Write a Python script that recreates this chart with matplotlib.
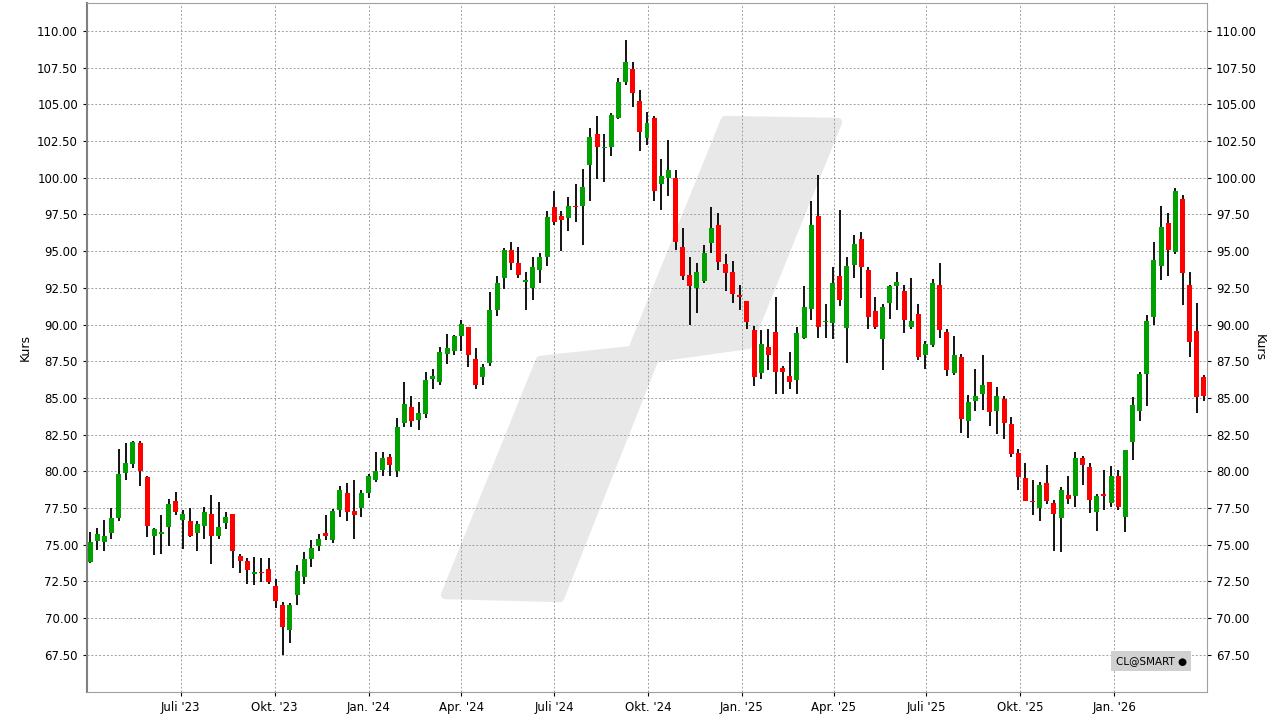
import matplotlib
matplotlib.use("Agg")
import matplotlib.pyplot as plt
import matplotlib.dates as mdates
from matplotlib.patches import Polygon
import numpy as np
import datetime as dt

start = dt.date(2023, 4, 3)
opens = [73.85,75.27,75.2,75.8,76.84,79.9,80.5,81.93,79.6,75.6,75.75,76.2,78.0,76.7,76.6,
 75.8,76.3,77.1,75.6,76.45,77.1,74.25,73.9,72.98,73.16,73.36,72.2,70.9,69.2,71.6,
 72.8,74.0,74.9,75.8,75.3,77.4,78.5,77.3,77.5,78.5,79.4,80.1,80.97,80.0,83.3,
 84.4,83.5,83.9,86.3,86.1,88.0,88.2,89.25,89.8,87.66,86.45,87.4,91.0,93.2,95.05,
 94.2,92.9,92.5,93.7,94.6,98.0,97.4,97.25,98.1,98.1,100.86,103.0,102.0,102.1,104.1,
 106.5,107.4,105.2,102.7,104.1,99.6,100.0,100.0,95.25,93.35,92.5,92.95,95.55,96.75,94.1,
 93.6,91.98,91.57,89.66,86.7,88.5,89.5,87.07,86.5,86.2,89.1,91.05,97.36,90.16,90.1,
 93.3,89.75,94.05,95.8,93.7,90.95,89.0,91.5,92.6,92.25,89.85,90.7,87.9,88.6,92.7,
 89.5,86.7,87.8,83.4,84.77,85.25,86.07,84.14,84.9,83.2,81.27,79.57,78.0,77.48,79.2,
 77.86,76.8,78.4,78.3,80.93,80.27,77.23,78.43,77.84,79.68,76.9,81.98,84.12,86.64,90.52,
 94.0,96.9,94.95,98.55,92.68,89.55,86.4]
closes = [75.16,75.73,75.6,76.8,79.8,80.6,82.0,80.0,76.3,76.1,75.85,77.8,77.2,77.1,75.57,
 76.4,77.2,75.6,76.2,76.9,74.55,73.86,73.25,73.16,73.05,72.43,71.14,69.43,70.9,73.2,
 74.0,74.8,75.4,75.57,77.3,78.7,77.2,77.0,78.5,79.7,80.0,80.9,80.4,83.0,84.6,
 83.4,84.0,86.2,86.5,88.1,88.4,89.2,90.05,87.9,85.85,87.1,91.0,92.86,95.1,94.2,
 93.4,93.0,93.9,94.6,97.3,97.0,97.1,98.1,98.0,99.4,102.8,102.1,102.1,104.25,106.5,
 107.9,105.8,103.1,103.7,99.07,100.1,100.5,95.6,93.3,92.6,93.55,94.9,96.6,94.25,93.5,
 92.07,91.86,90.16,86.4,88.7,87.9,86.75,86.75,86.07,89.45,91.2,96.75,89.8,90.27,92.8,
 91.66,94.0,95.5,93.9,90.5,89.8,91.2,92.6,92.9,90.3,90.27,87.8,88.7,92.8,89.6,
 86.9,87.95,83.55,84.7,85.1,85.9,84.07,85.16,83.27,81.16,79.6,78.0,77.9,79.1,78.0,
 77.07,78.75,78.1,80.93,80.4,78.05,78.3,78.32,79.68,77.6,81.43,84.5,86.6,90.23,94.39,
 96.64,95.1,99.1,93.5,88.82,85.07,85.14]
highs = [75.84,76.14,76.7,77.5,81.5,81.9,82.07,82.1,79.7,76.14,77.0,78.1,78.6,77.4,77.5,
 76.6,77.6,78.4,77.9,77.2,77.1,74.4,74.1,74.16,74.1,74.1,72.68,71.1,71.0,73.6,
 74.5,75.3,75.7,77.05,77.45,79.0,79.2,79.4,78.7,79.8,81.3,81.3,81.2,83.6,86.1,
 85.1,84.7,86.8,87.0,88.5,89.36,89.3,90.3,89.8,88.4,87.3,92.2,93.3,95.2,95.6,
 95.25,93.6,94.6,94.9,97.7,99.1,97.7,98.66,99.6,100.6,103.4,104.2,103.0,104.4,106.8,
 109.4,107.9,106.0,104.5,104.2,101.3,102.6,100.5,96.6,94.6,94.2,95.45,98.0,97.6,94.8,
 94.3,92.7,91.6,89.9,89.6,89.7,91.9,87.2,88.1,89.8,92.6,98.4,100.2,91.4,93.9,
 97.8,94.6,96.07,96.3,93.9,91.9,91.4,92.7,93.6,92.7,93.2,91.4,88.9,93.1,94.2,
 89.7,89.2,88.0,85.2,87.0,87.95,86.07,85.77,85.1,83.7,81.5,80.6,79.4,79.3,80.45,
 78.07,78.95,79.7,81.34,81.07,80.6,78.43,80.07,80.34,80.07,81.43,85.05,86.8,90.64,95.61,
 98.07,97.6,99.3,98.8,93.57,91.45,86.55]
lows = [73.73,74.66,74.6,75.4,76.6,79.4,80.2,79.0,75.55,74.3,74.4,74.9,77.0,74.7,75.5,
 74.6,75.4,73.66,75.4,76.05,73.45,73.05,72.36,72.23,72.43,72.3,70.66,67.5,68.34,70.9,
 72.3,73.5,74.6,75.3,75.1,76.9,76.6,75.4,76.9,78.2,79.3,79.7,79.7,79.6,83.0,
 83.0,82.8,83.66,85.6,85.9,87.3,87.9,88.2,87.1,85.6,85.85,87.2,90.6,92.4,93.7,
 93.2,91.0,91.7,92.8,94.0,96.8,95.0,96.4,97.0,95.4,98.4,99.9,99.7,101.5,104.0,
 106.3,104.8,101.8,102.2,98.4,97.8,98.75,95.1,93.0,90.0,90.8,92.8,94.9,93.7,92.3,
 91.45,91.0,89.7,85.8,86.3,86.9,85.25,85.3,85.6,85.25,89.0,90.3,89.1,89.07,89.0,
 91.25,87.4,93.16,91.8,89.7,89.7,86.9,90.4,91.0,89.4,89.7,87.57,87.0,88.45,89.07,
 86.5,86.55,82.6,82.3,84.1,84.2,83.1,82.57,82.2,80.95,78.7,77.95,77.0,76.6,77.8,
 74.55,74.48,77.8,77.55,79.05,77.16,75.93,77.36,77.6,77.36,75.86,80.77,83.43,84.45,89.98,
 93.05,93.3,94.82,91.34,87.8,83.98,84.8]

n = len(opens)
dates = [start + dt.timedelta(weeks=i) for i in range(n)]
xs = mdates.date2num(dates)

W, H = 1281, 718
fig = plt.figure(figsize=(W/100, H/100), dpi=100)
ax = fig.add_axes([87/W, 1-692/H, (1207-87)/W, (692-3)/H])

# watermark
pts = [(725,120),(838,122),(748,345),(655,358),(560,598),(445,595),(540,360),(632,350)]
poly = Polygon([(x/W, 1-y/H) for x, y in pts], closed=True, transform=fig.transFigure,
               facecolor='#e8e8e8', edgecolor='#e8e8e8', linewidth=6, zorder=0, joinstyle='round')
ax.add_patch(poly)

green = '#00a000'
red = '#ff0000'
bw = 4.9
for x, o, h, l, c in zip(xs, opens, highs, lows, closes):
    ax.vlines(x, l, h, color='black', linewidth=1.3, zorder=2)
    col = green if c >= o else red
    ax.bar(x, abs(c-o) if abs(c-o) > 0.08 else 0.1, bottom=min(o, c), width=bw,
           color=col, edgecolor='none', zorder=3)

ax.set_xlim(xs[0]-3, xs[-1]+3)
ax.set_ylim(64.97, 111.9)
yt = np.arange(67.5, 110.01, 2.5)
ax.set_yticks(yt)
ax.set_yticklabels([f"{v:.2f}" for v in yt])
ax.tick_params(axis='y', which='both', labelsize=8.5, length=3, right=True, labelright=True)
month_ticks = [dt.date(2023,7,1),dt.date(2023,10,1),dt.date(2024,1,1),dt.date(2024,4,1),dt.date(2024,7,1),
               dt.date(2024,10,1),dt.date(2025,1,1),dt.date(2025,4,1),dt.date(2025,7,1),dt.date(2025,10,1),dt.date(2026,1,1)]
tick_labels = ["Juli '23","Okt. '23","Jan. '24","Apr. '24","Juli '24","Okt. '24","Jan. '25","Apr. '25","Juli '25","Okt. '25","Jan. '26"]
ax.set_xticks(mdates.date2num(month_ticks))
ax.set_xticklabels(tick_labels)
ax.tick_params(axis='x', labelsize=8.5, length=3)
ax.grid(True, color='#a0a0a0', linestyle=(0,(2,2)), linewidth=0.7, zorder=1)
ax.set_axisbelow(True)
for s in ax.spines.values():
    s.set_color('#a0a0a0')
ax.spines['left'].set_color('#808080')
ax.spines['left'].set_linewidth(1.5)
ax.set_ylabel('Kurs', fontsize=9)
ax2 = ax.secondary_yaxis('right')
ax2.set_yticks([])
ax2.set_ylabel('Kurs', fontsize=9, rotation=270, labelpad=42)
ax2.spines['right'].set_visible(False)

fig.text(1151/W, 1-661/H, 'CL@SMART \u25cf', fontsize=7.5, ha='center', va='center',
         bbox=dict(boxstyle='square,pad=0.45', facecolor='#d0d0d0', edgecolor='none'))
fig.savefig('out.png', dpi=100)
